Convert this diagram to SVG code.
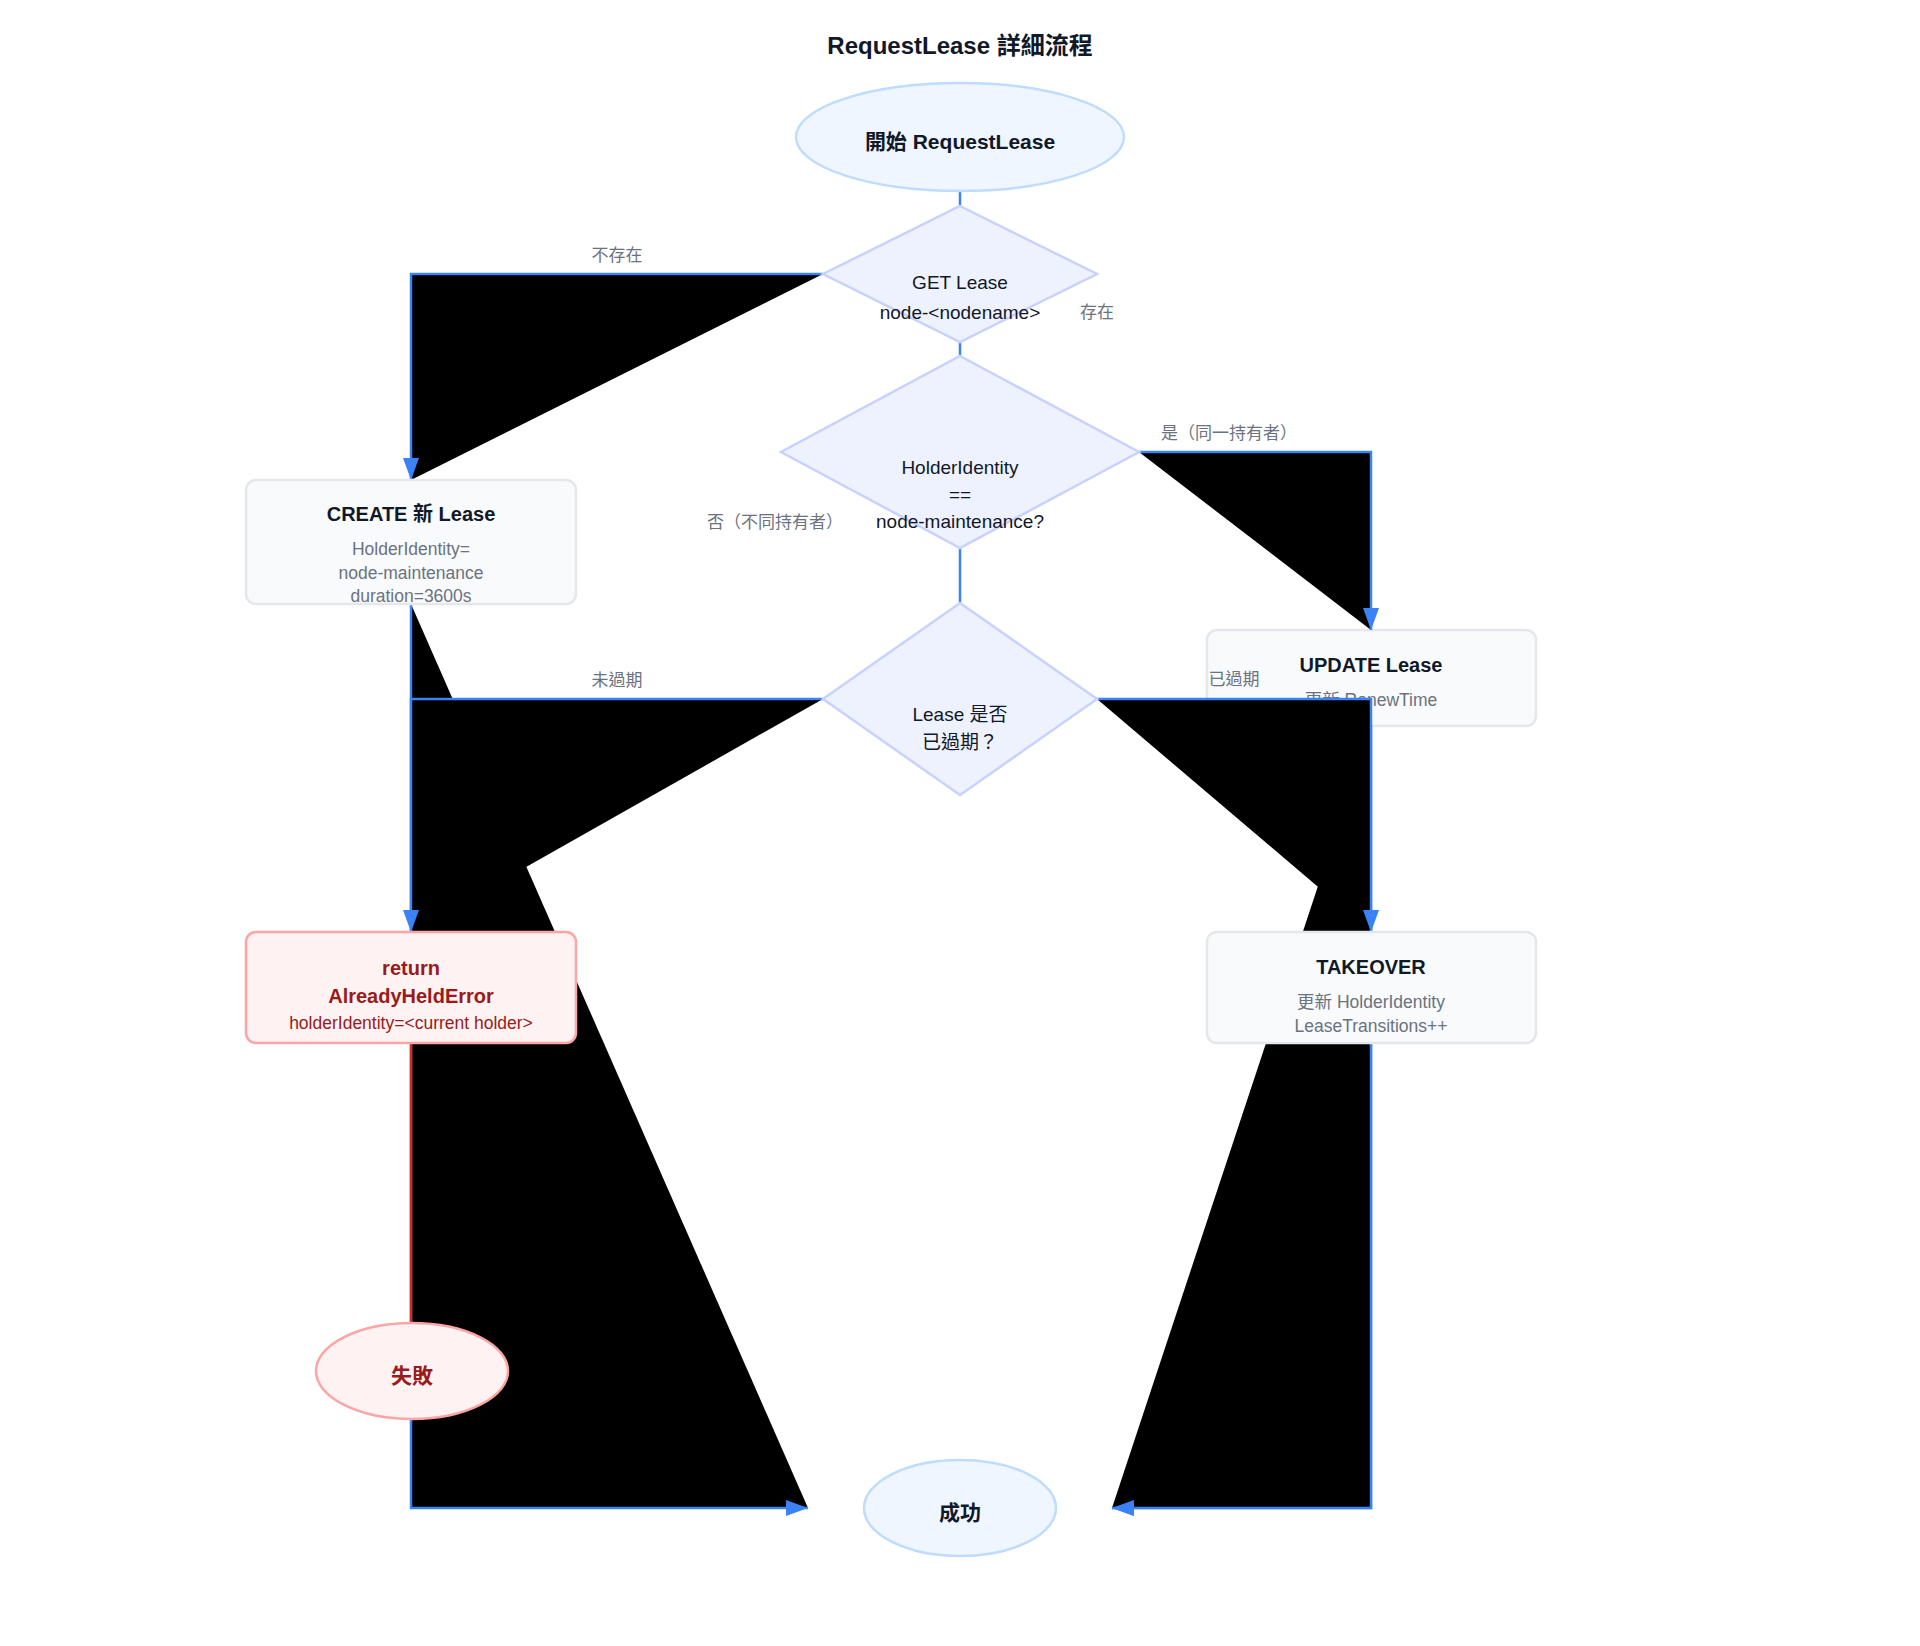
<svg xmlns="http://www.w3.org/2000/svg" width="1920" height="1646" viewBox="0 0 1920 1646">
<style>
text{font-family:"Liberation Sans","Noto Sans CJK TC",sans-serif;text-anchor:middle}
.title{font-size:24px;font-weight:bold;fill:#111827}
.term{fill:#eff6ff;stroke:#bfdbfe;stroke-width:2.5}
.fail{fill:#fef2f2;stroke:#fca5a5;stroke-width:2.5}
.dec{fill:#eef2ff;stroke:#c7d2fe;stroke-width:2.5}
.box{fill:#f8fafc;stroke:#e5e7eb;stroke-width:2.5}
.t-term{font-size:21px;font-weight:bold;fill:#111827}
.t-dec{font-size:19px;fill:#111827}
.t-head{font-size:20px;font-weight:bold;fill:#111827}
.t-sub{font-size:17.5px;fill:#6b7280}
.t-err{font-size:20px;font-weight:bold;fill:#991b1b}
.t-errsub{font-size:17.5px;fill:#991b1b}
.t-fail{font-size:21px;font-weight:bold;fill:#991b1b}
.lbl{font-size:17px;fill:#6b7280}
.edge{stroke:#3b82f6;stroke-width:2.5;fill:#000}
.edge-red{stroke:#dc2626;stroke-width:2.5;fill:none}
</style>
<defs>
<marker id="arr" viewBox="0 0 22 16" refX="22" refY="8" markerWidth="22" markerHeight="16" markerUnits="userSpaceOnUse" orient="auto"><path d="M0 0 L22 8 L0 16 z" fill="#3b82f6"/></marker>
</defs>
<text class="title" x="960" y="54">RequestLease 詳細流程</text>
<g id="update">
<rect class="box" x="1207" y="630" width="329" height="96" rx="10"/>
<text class="t-head" x="1371" y="672">UPDATE Lease</text>
<text class="t-sub" x="1371" y="706">更新 RenewTime</text>
</g>
<g id="connectors">
<path class="edge" d="M411 604 L411 1508 L808 1508" marker-end="url(#arr)"/>
<path class="edge" d="M1371 726 L1371 1508 L1112 1508" marker-end="url(#arr)"/>
<path class="edge" d="M1371 1043 L1371 1508 L1112 1508" marker-end="url(#arr)"/>
<path class="edge" d="M960 191 L960 206"/>
<path class="edge" d="M823 274 L411 274 L411 480" marker-end="url(#arr)"/>
<path class="edge" d="M960 342 L960 356"/>
<path class="edge" d="M1139 452 L1371 452 L1371 630" marker-end="url(#arr)"/>
<path class="edge" d="M960 548 L960 603"/>
<path class="edge" d="M823 699 L411 699 L411 932" marker-end="url(#arr)"/>
<path class="edge" d="M1097 699 L1371 699 L1371 932" marker-end="url(#arr)"/>
<path class="edge-red" d="M411 1043 L411 1323"/>
</g>
<g id="start">
<ellipse class="term" cx="960" cy="137" rx="164" ry="54"/>
<text class="t-term" x="960" y="149">開始 RequestLease</text>
</g>
<g id="get">
<polygon class="dec" points="960,206 1097,274 960,342 823,274"/>
<text class="t-dec" x="960" y="289">GET Lease</text>
<text class="t-dec" x="960" y="319">node-&lt;nodename&gt;</text>
</g>
<g id="holder">
<polygon class="dec" points="960,356 1139,452 960,548 781,452"/>
<text class="t-dec" x="960" y="474">HolderIdentity</text>
<text class="t-dec" x="960" y="501">==</text>
<text class="t-dec" x="960" y="528">node-maintenance?</text>
</g>
<g id="expired">
<polygon class="dec" points="960,603 1097,699 960,795 823,699"/>
<text class="t-dec" x="960" y="721">Lease 是否</text>
<text class="t-dec" x="960" y="749">已過期？</text>
</g>
<g id="create">
<rect class="box" x="246" y="480" width="330" height="124" rx="10"/>
<text class="t-head" x="411" y="521">CREATE 新 Lease</text>
<text class="t-sub" x="411" y="555">HolderIdentity=</text>
<text class="t-sub" x="411" y="579">node-maintenance</text>
<text class="t-sub" x="411" y="602">duration=3600s</text>
</g>
<g id="error">
<rect class="fail" x="246" y="932" width="330" height="111" rx="10"/>
<text class="t-err" x="411" y="975">return</text>
<text class="t-err" x="411" y="1003">AlreadyHeldError</text>
<text class="t-errsub" x="411" y="1029">holderIdentity=&lt;current holder&gt;</text>
</g>
<g id="takeover">
<rect class="box" x="1207" y="932" width="329" height="111" rx="10"/>
<text class="t-head" x="1371" y="974">TAKEOVER</text>
<text class="t-sub" x="1371" y="1008">更新 HolderIdentity</text>
<text class="t-sub" x="1371" y="1032">LeaseTransitions++</text>
</g>
<g id="failed">
<ellipse class="fail" cx="412" cy="1371" rx="96" ry="48"/>
<text class="t-fail" x="412" y="1383">失敗</text>
</g>
<g id="success">
<ellipse class="term" cx="960" cy="1508" rx="96" ry="48"/>
<text class="t-term" x="960" y="1520">成功</text>
</g>
<g id="edge-labels">
<text class="lbl" x="617" y="261">不存在</text>
<text class="lbl" x="1097" y="318">存在</text>
<text class="lbl" x="1229" y="439">是（同一持有者）</text>
<text class="lbl" x="775" y="528">否（不同持有者）</text>
<text class="lbl" x="617" y="686">未過期</text>
<text class="lbl" x="1234" y="685">已過期</text>
</g>
</svg>
